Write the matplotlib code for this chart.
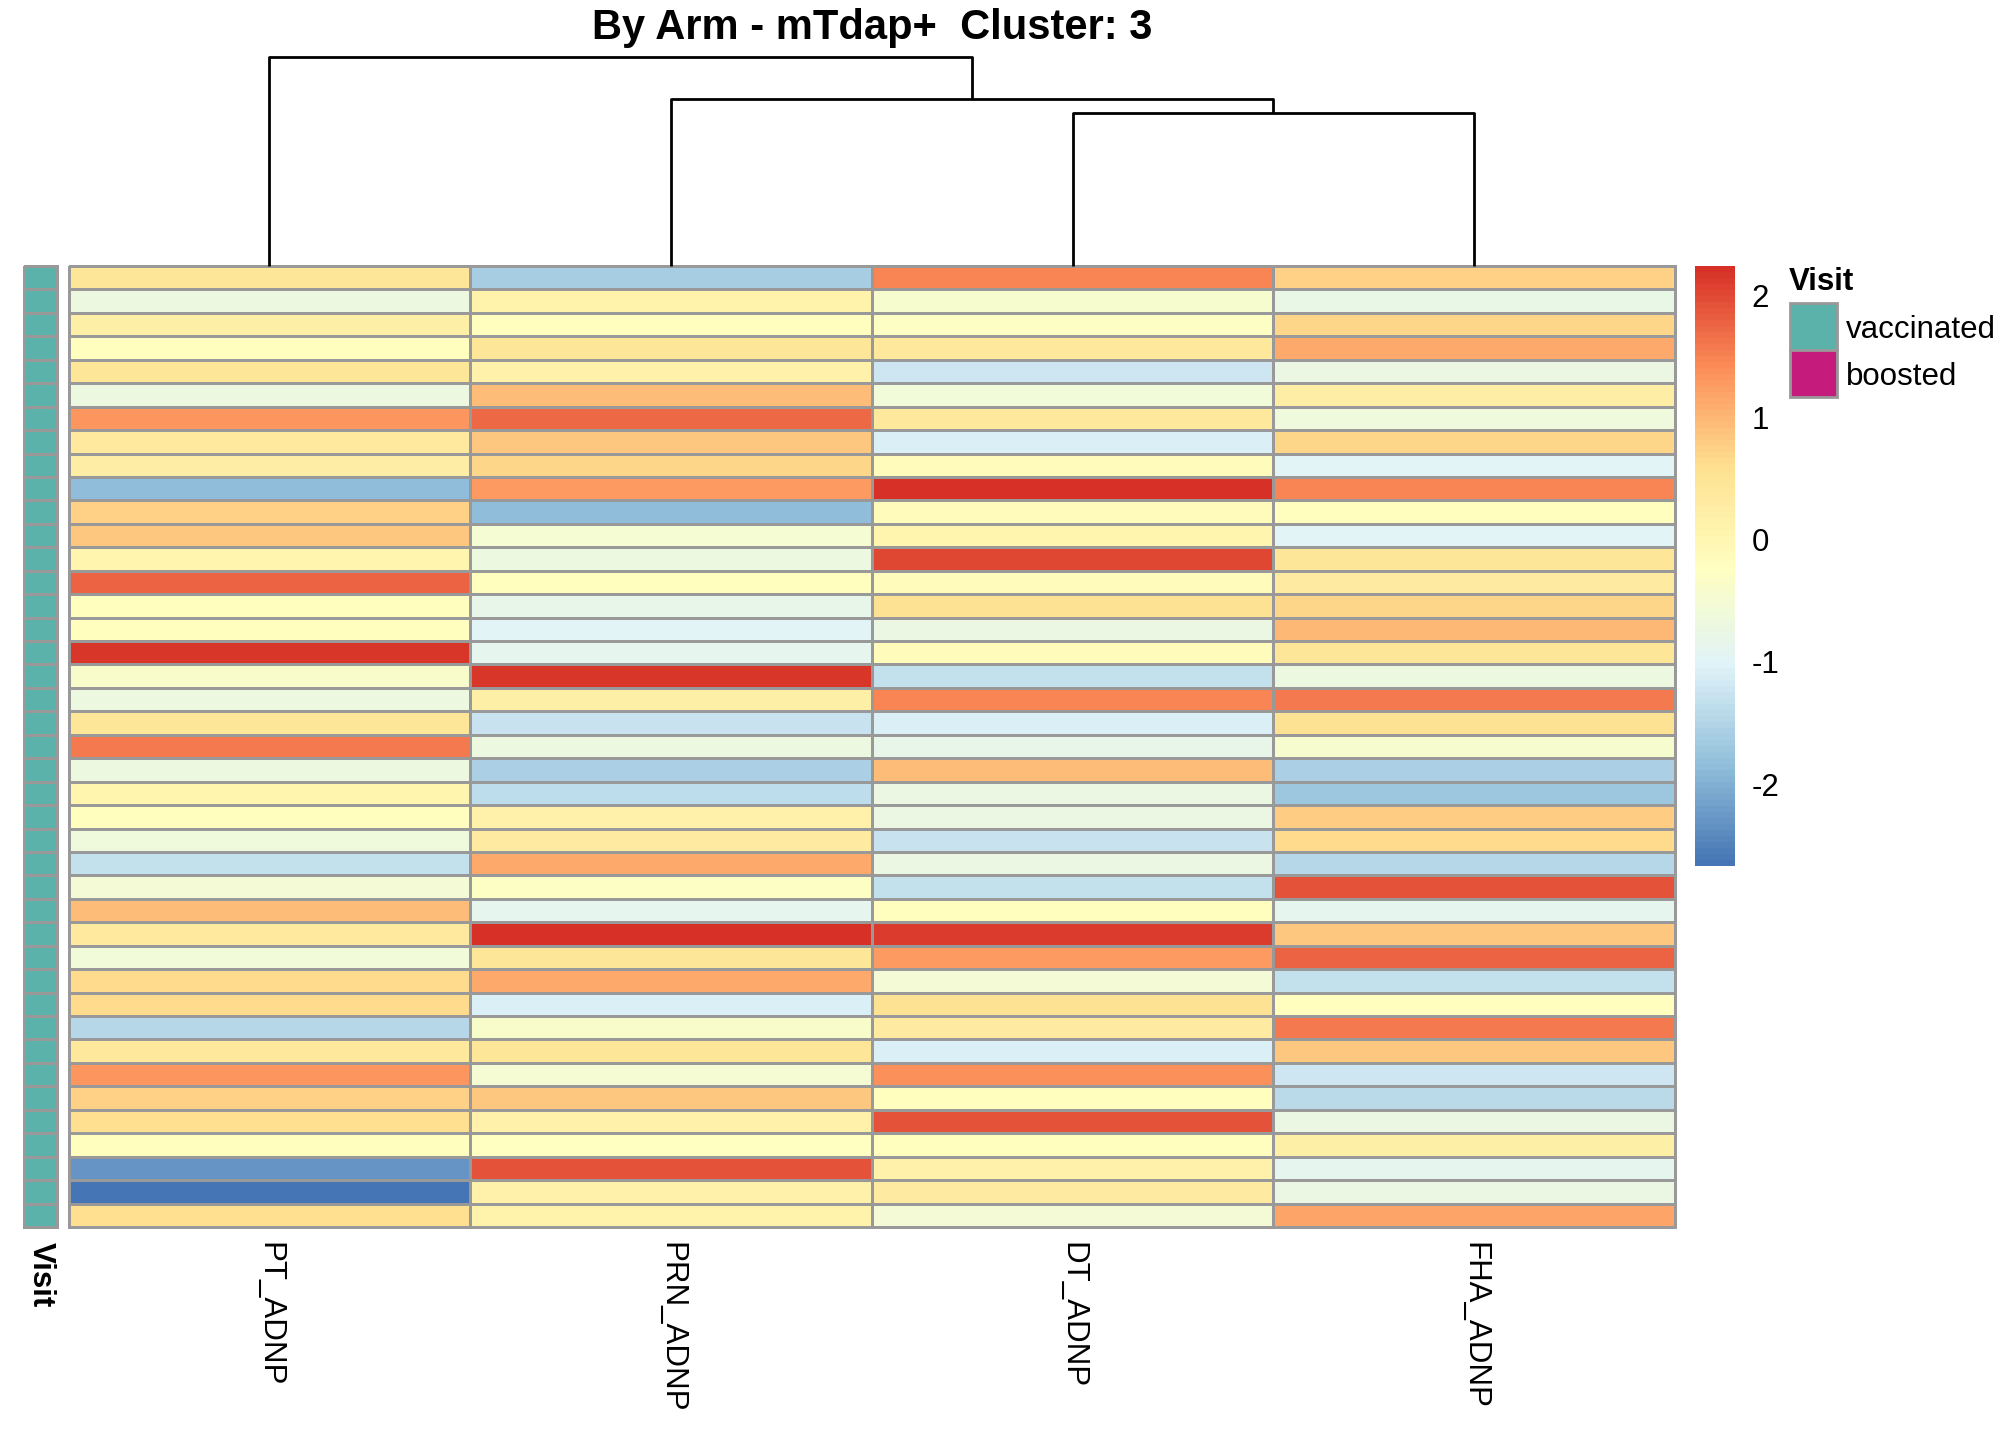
#!/usr/bin/env python3
"""
pheatmap-style clustered heatmap: 41 samples x 4 ADNP antigens, one
annotation column (Visit), column dendrogram on top, colour key + legend right.
"""

import matplotlib.pyplot as plt
from matplotlib.colors import LinearSegmentedColormap, ListedColormap, Normalize
from matplotlib.cm import ScalarMappable
from matplotlib.patches import Rectangle
import numpy as np

plt.rcParams["font.family"] = ["Liberation Sans", "DejaVu Sans"]

TITLE = "By Arm - mTdap+  Cluster: 3"
COLUMNS = ["PT_ADNP", "PRN_ADNP", "DT_ADNP", "FHA_ADNP"]

# scaled values per column, rows top -> bottom (as clustered/ordered in the plot)
PT_ADNP = [0.45, -0.7, 0.2, -0.2, 0.45, -0.7, 1.35, 0.35, 0.25, -1.85,
           0.75, 0.85, 0.05, 1.75, -0.2, -0.2, 2.15, -0.4, -0.7, 0.45,
           1.6, -0.7, 0.05, -0.2, -0.65, -1.3, -0.55, 0.95, 0.35, -0.6,
           0.65, 0.65, -1.45, 0.4, 1.35, 0.75, 0.6, -0.2, -2.3, -2.67, 0.6]
PRN_ADNP = [-1.6, 0.1, -0.2, 0.45, 0.15, 0.95, 1.7, 0.85, 0.7, 1.3,
            -1.85, -0.5, -0.7, -0.2, -0.85, -1.0, -0.9, 2.15, 0.2, -1.25,
            -0.7, -1.55, -1.35, 0.15, 0.3, 1.15, -0.3, -0.9, 2.22, 0.45,
            1.15, -1.05, -0.4, 0.45, -0.5, 0.85, 0.15, -0.25, 1.9, 0.15, 0.1]
DT_ADNP = [1.5, -0.45, -0.3, 0.4, -1.2, -0.6, 0.4, -1.05, -0.15, 2.24,
           -0.15, 0.05, 2.0, -0.15, 0.55, -0.75, -0.15, -1.3, 1.5, -1.05,
           -0.85, 0.95, -0.75, -0.75, -1.25, -0.75, -1.3, -0.2, 2.1, 1.3,
           -0.55, 0.55, 0.3, -1.05, 1.4, -0.2, 1.9, -0.2, 0.15, 0.3, -0.55]
FHA_ADNP = [0.75, -0.8, 0.7, 1.15, -0.75, 0.25, -0.65, 0.7, -1.0, 1.5,
            -0.2, -1.0, 0.45, 0.3, 0.7, 1.0, 0.45, -0.7, 1.6, 0.55,
            -0.45, -1.55, -1.7, 0.8, 0.65, -1.45, 1.9, -0.9, 0.85, 1.75,
            -1.3, -0.2, 1.6, 0.85, -1.2, -1.4, -0.75, 0.2, -0.9, -0.75, 1.2]

VISIT = ["vaccinated"] * len(PT_ADNP)
VISIT_LEVELS = ["vaccinated", "boosted"]
VISIT_COLOR = {"vaccinated": "#5BB2AA", "boosted": "#C51B7D"}

# column dendrogram: (left node, right node, height); leaves 0..3 in plot order,
# merged nodes numbered 4, 5, ... as in a linkage matrix
DEND_MERGES = [(2, 3, 0.73), (1, 4, 0.80), (0, 5, 1.0)]

CB_TICKS = [2, 1, 0, -1, -2]

# pheatmap default palette: rev(brewer.pal(7, "RdYlBu")), 100 steps
RDYLBU7 = ["#4575B4", "#91BFDB", "#E0F3F8", "#FFFFBF", "#FEE090", "#FC8D59", "#D73027"]
BORDER = "#999999"

W, H = 2016, 1440


def rect(x0, y0, x1, y1):
    """pixel box (top-left origin) -> figure fraction rect"""
    return [x0 / W, 1 - y1 / H, (x1 - x0) / W, (y1 - y0) / H]


def draw_dendrogram(ax, merges, n_leaves):
    pos = {i: (i + 0.5, 0.0) for i in range(n_leaves)}
    for k, (a, b, h) in enumerate(merges):
        xa, ha = pos[a]
        xb, hb = pos[b]
        ax.plot([xa, xa, xb, xb], [ha, h, h, hb], color="black", lw=2.0,
                solid_capstyle="butt", clip_on=False)
        pos[n_leaves + k] = ((xa + xb) / 2, h)
    ax.set_xlim(0, n_leaves)
    ax.set_ylim(0, max(h for _, _, h in merges))
    ax.axis("off")


def main():
    data = np.column_stack([PT_ADNP, PRN_ADNP, DT_ADNP, FHA_ADNP])
    n_rows, n_cols = data.shape
    vmin, vmax = data.min(), data.max()
    cmap = LinearSegmentedColormap.from_list("rdylbu_rev", RDYLBU7, N=100)
    norm = Normalize(vmin=vmin, vmax=vmax)

    fig = plt.figure(figsize=(W / 100, H / 100), dpi=100)

    # main heatmap
    ax = fig.add_axes(rect(68.5, 266, 1675, 1227))
    mesh = ax.pcolormesh(data, cmap=cmap, norm=norm, edgecolors=BORDER, linewidth=2.0)
    mesh.set_clip_on(False)
    ax.set_xlim(0, n_cols)
    ax.set_ylim(n_rows, 0)
    ax.set_xticks(np.arange(n_cols) + 0.5)
    ax.set_xticklabels(COLUMNS, rotation=270, fontsize=22.5, va="top", ha="center")
    ax.set_yticks([])
    ax.tick_params(axis="x", length=0, pad=11)
    for sp in ax.spines.values():
        sp.set_visible(False)

    # annotation column
    ax_an = fig.add_axes(rect(24, 266, 57, 1227))
    codes = np.array([[VISIT_LEVELS.index(v)] for v in VISIT])
    an_cmap = ListedColormap([VISIT_COLOR[v] for v in VISIT_LEVELS])
    an_mesh = ax_an.pcolormesh(codes, cmap=an_cmap, vmin=-0.5, vmax=len(VISIT_LEVELS) - 0.5,
                               edgecolors=BORDER, linewidth=2.0)
    an_mesh.set_clip_on(False)
    ax_an.set_xlim(0, 1)
    ax_an.set_ylim(n_rows, 0)
    ax_an.set_xticks([0.5])
    ax_an.set_xticklabels(["Visit"], rotation=270, fontsize=22.5, fontweight="bold",
                          va="top", ha="center")
    ax_an.set_yticks([])
    ax_an.tick_params(axis="x", length=0, pad=11)
    for sp in ax_an.spines.values():
        sp.set_visible(False)

    # column dendrogram
    ax_d = fig.add_axes(rect(68.5, 57, 1675, 266))
    draw_dendrogram(ax_d, DEND_MERGES, n_cols)

    # colour key
    cax = fig.add_axes(rect(1695, 266, 1735, 866))
    cb = fig.colorbar(ScalarMappable(norm=norm, cmap=cmap), cax=cax)
    cb.outline.set_visible(False)
    cb.set_ticks(CB_TICKS)
    cb.set_ticklabels([str(t) for t in CB_TICKS])
    cax.tick_params(length=0, pad=12, labelsize=22.5)

    # annotation legend + title in pixel space
    ov = fig.add_axes([0, 0, 1, 1])
    ov.set_xlim(0, W)
    ov.set_ylim(H, 0)
    ov.axis("off")
    ov.text(1789, 282, "Visit", fontsize=22.5, fontweight="bold", ha="left", va="center")
    for i, lev in enumerate(VISIT_LEVELS):
        y0 = 303 + i * 47
        ov.add_patch(Rectangle((1790, y0), 47, 47, facecolor=VISIT_COLOR[lev],
                               edgecolor=BORDER, lw=2.0))
        ov.text(1846, y0 + 27, lev, fontsize=22.5, ha="left", va="center")
    ov.text(872, 28, TITLE, fontsize=30, fontweight="bold", ha="center", va="center")

    fig.savefig("out.png", dpi=100)
    plt.close(fig)


if __name__ == "__main__":
    main()
